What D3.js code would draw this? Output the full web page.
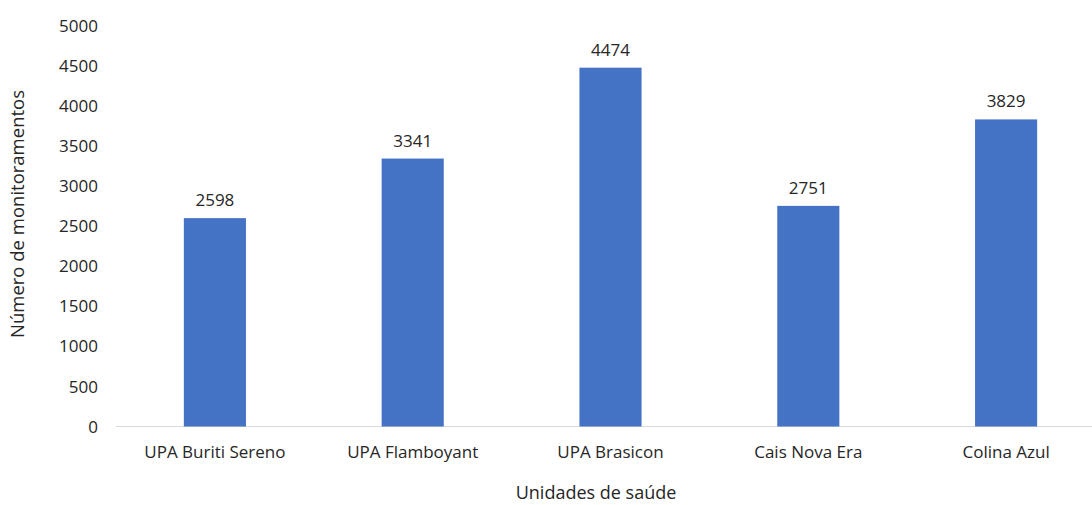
<!DOCTYPE html>
<html><head><meta charset="utf-8">
<script src="https://cdn.jsdelivr.net/npm/d3@7"></script>
<style>body{margin:0;background:#fff;} svg{display:block;} text{font-family:"Open Sans",sans-serif;fill:#262626;}</style>
</head><body>
<svg id="c" width="1092" height="505"></svg>
<script>
const categories = ["UPA Buriti Sereno","UPA Flamboyant","UPA Brasicon","Cais Nova Era","Colina Azul"];
const values = [2598,3341,4474,2751,3829];
const yTicks = [0,500,1000,1500,2000,2500,3000,3500,4000,4500,5000];
const yTitle = "Número de monitoramentos";
const xTitle = "Unidades de saúde";

const svg = d3.select("#c");
const x = d3.scaleBand().domain(categories).range([116, 1105]);
const y = d3.scaleLinear().domain([0,5000]).range([426.5, 25.5]);
const bw = x.step()*0.314;

svg.append("line").attr("x1",116).attr("x2",1105).attr("y1",y(0)).attr("y2",y(0))
  .attr("stroke","#d9d9d9").attr("stroke-width",1.2);

svg.selectAll("text.yt").data(yTicks).enter().append("text").attr("class","yt")
  .attr("x",98).attr("y",d=>y(d)).attr("dy","0.36em").attr("text-anchor","end")
  .style("font-size","17px").text(d=>d);

const cx = d => x(d)+x.bandwidth()/2;
svg.selectAll("rect.bar").data(categories).enter().append("rect").attr("class","bar")
  .attr("x",d=>cx(d)-bw/2).attr("width",bw)
  .attr("y",(d,i)=>y(values[i])).attr("height",(d,i)=>y(0)-y(values[i]))
  .attr("fill","#4472C4");

svg.selectAll("text.vl").data(categories).enter().append("text").attr("class","vl")
  .attr("x",cx).attr("y",(d,i)=>y(values[i])-12).attr("text-anchor","middle")
  .style("font-size","17px").text((d,i)=>values[i]);

svg.selectAll("text.xl").data(categories).enter().append("text").attr("class","xl")
  .attr("x",cx).attr("y",458).attr("text-anchor","middle")
  .style("font-size","17px").text(d=>d);

svg.append("text").attr("x",596).attr("y",499).attr("text-anchor","middle")
  .style("font-size","18px").text(xTitle);
svg.append("text").attr("transform","translate(24,214) rotate(-90)").attr("text-anchor","middle")
  .style("font-size","18.5px").text(yTitle);
</script>
</body></html>
